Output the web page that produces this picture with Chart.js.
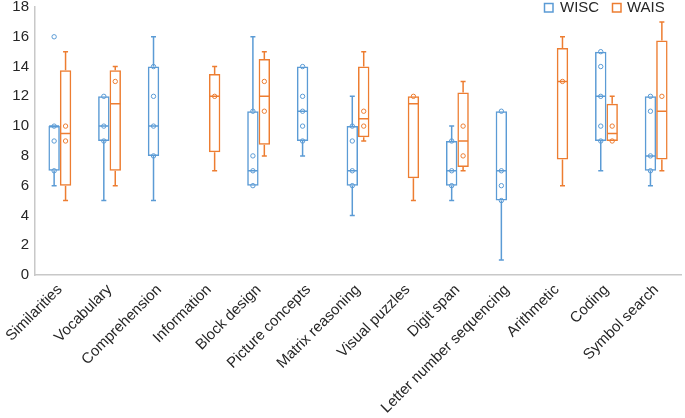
<!DOCTYPE html>
<html>
<head>
<meta charset="utf-8">
<script src="https://cdn.jsdelivr.net/npm/chart.js@4/dist/chart.umd.min.js"></script>
<style>
  html, body { margin: 0; padding: 0; background: #fff; }
  #wrap { width: 685px; height: 418px; }
</style>
</head>
<body>
<div id="wrap"><canvas id="c" width="685" height="418"></canvas></div>
<script>
const categories = ['Similarities', 'Vocabulary', 'Comprehension', 'Information', 'Block design',
  'Picture concepts', 'Matrix reasoning', 'Visual puzzles', 'Digit span',
  'Letter number sequencing', 'Arithmetic', 'Coding', 'Symbol search'];

const seriesNames = ['WISC', 'WAIS'];
const seriesColors = ['#5B9BD5', '#ED7D31'];

// WISC
const wiscMin    = [6, 5, 5, null, 6, 8, 4, null, 5, 1, null, 7, 6];
const wiscQ1     = [7, 9, 8, null, 6, 9, 6, null, 6, 5, null, 9, 7];
const wiscMedian = [10, 10, 10, null, 7, 11, 7, null, 7, 7, null, 12, 8];
const wiscQ3     = [10, 12, 14, null, 11, 14, 10, null, 9, 11, null, 15, 12];
const wiscMax    = [10, 12, 16, null, 16, 14, 12, null, 10, 11, null, 15, 12];
const wiscPoints = [[16, 10, 9, 7], [12, 10, 9], [14, 12, 10, 8], [], [11, 8, 7, 6],
  [14, 12, 11, 10, 9], [10, 9, 7, 6], [], [9, 7, 6], [11, 7, 6, 5], [], [15, 14, 12, 10, 9], [12, 11, 8, 7]];

// WAIS
const waisMin    = [5, 6, null, 7, 8, null, 9, 5, 7, null, 6, 9, 7];
const waisQ1     = [6, 7, null, 8.25, 8.75, null, 9.25, 6.5, 7.25, null, 7.75, 9, 7.75];
const waisMedian = [9.5, 11.5, null, 12, 12, null, 10.5, 11.5, 9, null, 13, 9.5, 11];
const waisQ3     = [13.75, 13.75, null, 13.5, 14.5, null, 14, 12, 12.25, null, 15.25, 11.5, 15.75];
const waisMax    = [15, 14, null, 14, 15, null, 15, 12, 13, null, 16, 12, 17];
const waisPoints = [[10, 9], [13], [], [12], [13, 11], [], [11, 10], [12], [10, 8], [], [13], [10, 9], [12]];

const yMin = 0, yMax = 18, yStep = 2;

const stats = [
  { min: wiscMin, q1: wiscQ1, med: wiscMedian, q3: wiscQ3, max: wiscMax, pts: wiscPoints },
  { min: waisMin, q1: waisQ1, med: waisMedian, q3: waisQ3, max: waisMax, pts: waisPoints }
];

const boxData = stats.map(s => s.q1.map((v, i) => (v === null ? null : [v, s.q3[i]])));

const FONT = 'Liberation Sans, Arial, sans-serif';
const TEXT = '#262626';

const boxPlugin = {
  id: 'boxParts',
  afterDatasetsDraw(chart) {
    const ctx = chart.ctx;
    const ys = chart.scales.y;
    stats.forEach((s, di) => {
      const meta = chart.getDatasetMeta(di);
      const color = seriesColors[di];
      ctx.save();
      ctx.strokeStyle = color;
      ctx.lineWidth = 1.5;
      meta.data.forEach((bar, i) => {
        if (s.q1[i] === null) return;
        const x = bar.x;
        const w = bar.width;
        const left = x - w / 2 + 0.75, right = x + w / 2 - 0.75;
        const pMin = ys.getPixelForValue(s.min[i]);
        const pQ1 = ys.getPixelForValue(s.q1[i]);
        const pMed = ys.getPixelForValue(s.med[i]);
        const pQ3 = ys.getPixelForValue(s.q3[i]);
        const pMax = ys.getPixelForValue(s.max[i]);
        ctx.beginPath();
        ctx.moveTo(left, pMed); ctx.lineTo(right, pMed);
        if (s.max[i] > s.q3[i]) {
          ctx.moveTo(x, pQ3); ctx.lineTo(x, pMax);
          ctx.moveTo(x - 2.5, pMax); ctx.lineTo(x + 2.5, pMax);
        }
        if (s.min[i] < s.q1[i]) {
          ctx.moveTo(x, pQ1); ctx.lineTo(x, pMin);
          ctx.moveTo(x - 2.5, pMin); ctx.lineTo(x + 2.5, pMin);
        }
        ctx.stroke();
        ctx.lineWidth = 1;
        s.pts[i].forEach(v => {
          const py = ys.getPixelForValue(v);
          ctx.beginPath();
          ctx.arc(x, py, 2.2, 0, Math.PI * 2);
          ctx.stroke();
        });
        ctx.lineWidth = 1.5;
      });
      ctx.restore();
    });
    // legend
    ctx.save();
    ctx.font = '15px ' + FONT;
    ctx.textBaseline = 'middle';
    ctx.textAlign = 'left';
    const legendItems = [{ bx: 544, tx: 560 }, { bx: 612, tx: 627 }];
    legendItems.forEach((it, k) => {
      ctx.strokeStyle = seriesColors[k];
      ctx.lineWidth = 1.5;
      ctx.strokeRect(it.bx + 0.5, 3.5, 8.5, 8.5);
      ctx.fillStyle = TEXT;
      ctx.fillText(seriesNames[k], it.tx, 8);
    });
    ctx.restore();
  }
};

new Chart(document.getElementById('c'), {
  type: 'bar',
  data: {
    labels: categories,
    datasets: seriesNames.map((name, di) => ({
      label: name,
      data: boxData[di],
      backgroundColor: 'rgba(255,255,255,0)',
      borderColor: seriesColors[di],
      borderWidth: 1.5,
      borderSkipped: false,
      categoryPercentage: 0.46,
      barPercentage: 1.0
    }))
  },
  options: {
    responsive: false,
    animation: false,
    layout: { padding: { top: 7, right: 4, left: 0, bottom: 0 } },
    plugins: {
      legend: { display: false },
      tooltip: { enabled: false }
    },
    scales: {
      x: {
        grid: { display: false, drawTicks: false },
        border: { display: true, color: '#c8c8c8', width: 1.5 },
        ticks: {
          color: TEXT,
          font: { family: FONT, size: 15 },
          minRotation: 45, maxRotation: 45,
          padding: 6,
          autoSkip: false
        },
        afterFit(scale) { scale.height = 143; scale.paddingLeft = 0; scale.paddingRight = 0; }
      },
      y: {
        min: yMin, max: yMax,
        grid: { display: false, drawTicks: false },
        border: { display: true, color: '#c8c8c8', width: 1.5 },
        ticks: {
          stepSize: yStep,
          color: TEXT,
          font: { family: FONT, size: 15 },
          padding: 6
        },
        afterFit(scale) { scale.width = 35; scale.paddingTop = 0; scale.paddingBottom = 0; }
      }
    }
  },
  plugins: [boxPlugin]
});
</script>
</body>
</html>
